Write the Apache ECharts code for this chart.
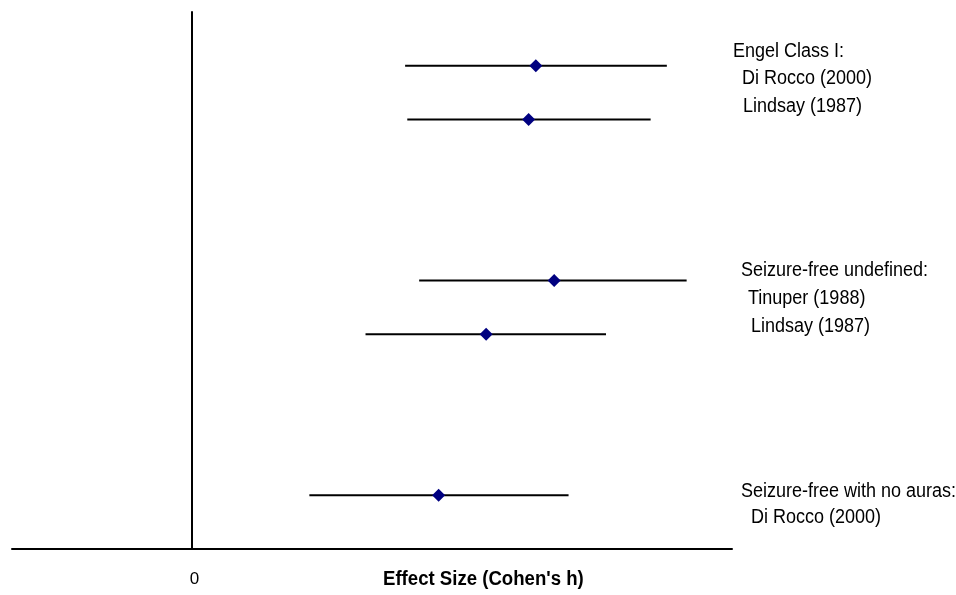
<!DOCTYPE html>
<html>
<head>
<meta charset="utf-8">
<script src="https://cdn.jsdelivr.net/npm/echarts@6/dist/echarts.min.js"></script>
<style>
html,body{margin:0;padding:0;background:#fff;}
#chart{width:956px;height:595px;}
</style>
</head>
<body>
<div id="chart"></div>
<script>
// Row positions on the (hidden) vertical scale
const rowPos = [9, 8, 5, 4, 1];
// Effect sizes (Cohen's h) and confidence limits
const estimates = [0.955, 0.935, 1.006, 0.817, 0.685];
const lower = [0.592, 0.598, 0.631, 0.482, 0.326];
const upper = [1.319, 1.274, 1.374, 1.150, 1.046];
// Legend / annotation text
const labelLines = [
  'Engel Class I:', 'Di Rocco (2000)', 'Lindsay (1987)',
  'Seizure-free undefined:', 'Tinuper (1988)', 'Lindsay (1987)',
  'Seizure-free with no auras:', 'Di Rocco (2000)'
];
const xTickLabels = ['0'];
const xTitle = "Effect Size (Cohen's h)";

const FONT = "'Liberation Sans', Arial, sans-serif";
const labelPos = [
  [733, 51], [742, 78], [743, 106],
  [741, 270], [748, 298], [751, 326],
  [741, 491], [751, 517]
];

const ciData = rowPos.map((y, i) => [lower[i], upper[i], y]);
const ptData = rowPos.map((y, i) => [estimates[i], y]);

const chart = echarts.init(document.getElementById('chart'));
chart.setOption({
  animation: false,
  backgroundColor: '#ffffff',
  grid: { left: 12, right: 224, top: 12, bottom: 46, containLabel: false },
  xAxis: {
    type: 'value', min: -0.5, max: 1.5, interval: 0.5,
    axisLine: { show: true, lineStyle: { color: '#000', width: 2 } },
    axisTick: { show: false },
    splitLine: { show: false },
    axisLabel: {
      show: true, margin: 22, color: '#000', fontSize: 17, fontFamily: FONT,
      padding: [0, 0, 0, 5],
      formatter: v => (v === 0 ? xTickLabels[0] : '')
    }
  },
  yAxis: {
    type: 'value', min: 0, max: 10,
    axisLine: { show: true, onZero: true, lineStyle: { color: '#000', width: 2 } },
    axisTick: { show: false },
    axisLabel: { show: false },
    splitLine: { show: false }
  },
  series: [
    {
      type: 'custom',
      data: ciData,
      encode: { x: [0, 1], y: 2 },
      renderItem: function (params, api) {
        const a = api.coord([api.value(0), api.value(2)]);
        const b = api.coord([api.value(1), api.value(2)]);
        return {
          type: 'line',
          shape: { x1: a[0], y1: a[1], x2: b[0], y2: b[1] },
          style: { stroke: '#000', lineWidth: 2 }
        };
      },
      z: 2
    },
    {
      type: 'scatter',
      data: ptData,
      symbol: 'diamond',
      symbolSize: [13, 13],
      itemStyle: { color: '#000080', opacity: 1 },
      z: 3
    }
  ],
  graphic: labelLines.map((t, i) => ({
    type: 'text',
    x: labelPos[i][0],
    y: labelPos[i][1],
    scaleX: 0.9,
    style: { text: t, fill: '#000', font: '20px ' + FONT, align: 'left', verticalAlign: 'middle' }
  })).concat([{
    type: 'text',
    x: 383,
    y: 579,
    scaleX: 0.93,
    style: { text: xTitle, fill: '#000', font: 'bold 20px ' + FONT, align: 'left', verticalAlign: 'middle' }
  }])
});
</script>
</body>
</html>
